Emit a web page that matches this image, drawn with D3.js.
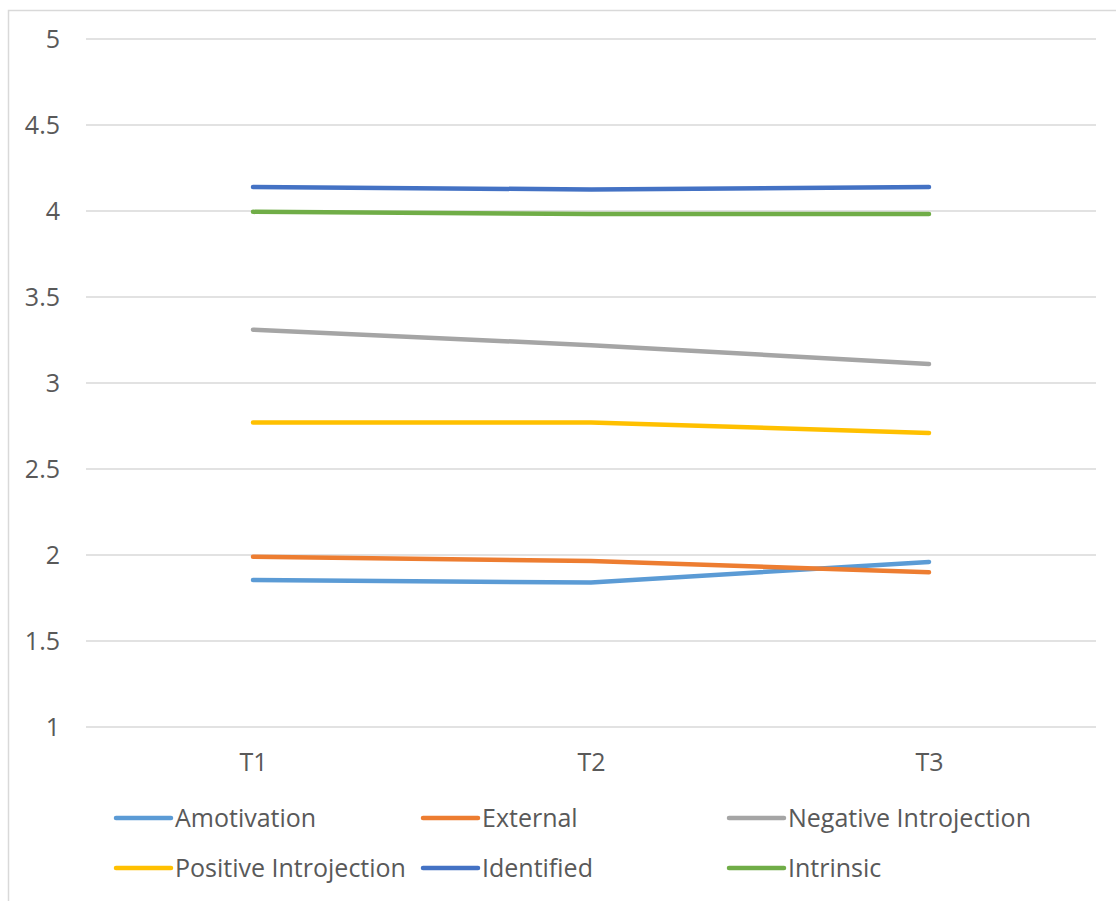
<!DOCTYPE html>
<html><head><meta charset="utf-8">
<script src="https://cdn.jsdelivr.net/npm/d3@7"></script>
<style>body{margin:0;background:#fff}svg{display:block}</style>
</head><body>
<script>
const categories = ["T1","T2","T3"];
const seriesNames = ["Amotivation","External","Negative Introjection","Positive Introjection","Identified","Intrinsic"];
const amotivation = [1.855, 1.84, 1.96];
const external = [1.99, 1.965, 1.90];
const negativeIntrojection = [3.31, 3.22, 3.11];
const positiveIntrojection = [2.77, 2.77, 2.71];
const identified = [4.14, 4.125, 4.14];
const intrinsic = [3.995, 3.982, 3.982];
const yTicks = [1, 1.5, 2, 2.5, 3, 3.5, 4, 4.5, 5];
const colors = ["#5b9bd5","#ed7d31","#a5a5a5","#ffc000","#4472c4","#70ad47"];
const values = [amotivation, external, negativeIntrojection, positiveIntrojection, identified, intrinsic];

const W = 1116, H = 901;
const svg = d3.select("body").append("svg").attr("width", W).attr("height", H);
svg.append("rect").attr("x", 8.5).attr("y", 10.5).attr("width", W + 10).attr("height", H + 10)
  .attr("fill", "#fff").attr("stroke", "#d9d9d9").attr("stroke-width", 1.5);

const x = d3.scalePoint().domain(categories).range([253, 929]);
const y = d3.scaleLinear().domain([1, 5]).range([727, 39]);
const font = "'Open Sans', 'Noto Sans', sans-serif";

const grid = svg.append("g");
grid.selectAll("line").data(yTicks).join("line")
  .attr("x1", 86).attr("x2", 1096)
  .attr("y1", d => y(d)).attr("y2", d => y(d))
  .attr("stroke", "#d9d9d9").attr("stroke-width", 1.5);

const yAxis = svg.append("g").attr("transform", "translate(60,0)")
  .call(d3.axisLeft(y).tickValues(yTicks).tickSize(0).tickPadding(0).tickFormat(d3.format("")));
yAxis.select(".domain").remove();
yAxis.selectAll("text").attr("fill", "#595959").style("font-size", "25px").style("font-family", font);

const xAxis = svg.append("g").attr("transform", "translate(0,753)")
  .call(d3.axisBottom(x).tickSize(0).tickPadding(0));
xAxis.select(".domain").remove();
xAxis.selectAll("text").attr("fill", "#595959").style("font-size", "25px").style("font-family", font).attr("y", 0).attr("dy", "0.71em");

const line = d3.line().x((d, i) => x(categories[i])).y(d => y(d));
svg.append("g").selectAll("path").data(values).join("path")
  .attr("d", line).attr("fill", "none")
  .attr("stroke", (d, i) => colors[i]).attr("stroke-width", 4.5)
  .attr("stroke-linecap", "round").attr("stroke-linejoin", "round");

const legX = [114, 421, 727], legY = [818, 868];
const leg = svg.append("g").selectAll("g").data(seriesNames).join("g")
  .attr("transform", (d, i) => `translate(${legX[i % 3]},${legY[Math.floor(i / 3)]})`);
leg.append("line").attr("x1", 2).attr("x2", 57).attr("y1", 0).attr("y2", 0)
  .attr("stroke", (d, i) => colors[i]).attr("stroke-width", 4.5).attr("stroke-linecap", "round");
leg.append("text").attr("x", 61).attr("y", 0).attr("dy", "0.35em")
  .attr("fill", "#595959").style("font-size", "25px").style("font-family", font).text(d => d);
</script>
</body></html>
